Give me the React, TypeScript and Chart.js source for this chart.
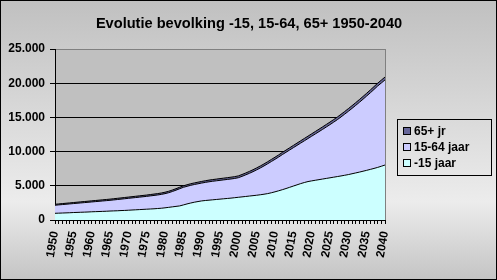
import React, { useEffect, useRef } from "react";
import { Chart, registerables } from "chart.js";

Chart.register(...registerables);

const years = [
  "1950","1951","1952","1953","1954","1955","1956","1957","1958","1959",
  "1960","1961","1962","1963","1964","1965","1966","1967","1968","1969",
  "1970","1971","1972","1973","1974","1975","1976","1977","1978","1979",
  "1980","1981","1982","1983","1984","1985","1986","1987","1988","1989",
  "1990","1991","1992","1993","1994","1995","1996","1997","1998","1999",
  "2000","2001","2002","2003","2004","2005","2006","2007","2008","2009",
  "2010","2011","2012","2013","2014","2015","2016","2017","2018","2019",
  "2020","2021","2022","2023","2024","2025","2026","2027","2028","2029",
  "2030","2031","2032","2033","2034","2035","2036","2037","2038","2039",
  "2040",
];

const under15 = [
  980, 1000, 1020, 1040, 1060, 1090, 1110, 1130, 1150, 1170,
  1200, 1220, 1240, 1260, 1280, 1310, 1330, 1350, 1380, 1400,
  1430, 1460, 1490, 1520, 1550, 1580, 1610, 1640, 1680, 1720,
  1780, 1850, 1920, 1990, 2060, 2200, 2350, 2480, 2600, 2700,
  2790, 2850, 2900, 2950, 3000, 3050, 3100, 3150, 3200, 3260,
  3320, 3380, 3440, 3500, 3560, 3620, 3690, 3770, 3860, 3980,
  4120, 4270, 4430, 4600, 4780, 4960, 5140, 5320, 5480, 5620,
  5720, 5810, 5900, 5990, 6080, 6170, 6260, 6350, 6440, 6540,
  6640, 6760, 6880, 7000, 7130, 7260, 7400, 7540, 7690, 7860,
  8040,
];

const age15to64 = [
  1180, 1208, 1235, 1263, 1291, 1309, 1337, 1364, 1392, 1420,
  1438, 1466, 1494, 1521, 1549, 1567, 1605, 1642, 1670, 1708,
  1736, 1764, 1792, 1819, 1847, 1875, 1913, 1950, 1978, 2025,
  2072, 2139, 2246, 2373, 2510, 2577, 2574, 2591, 2588, 2595,
  2612, 2649, 2686, 2713, 2730, 2747, 2764, 2781, 2798, 2815,
  2862, 2998, 3154, 3320, 3506, 3712, 3918, 4134, 4360, 4566,
  4752, 4938, 5134, 5300, 5456, 5612, 5767, 5922, 6097, 6292,
  6527, 6773, 7019, 7265, 7521, 7777, 8043, 8319, 8625, 8931,
  9247, 9554, 9871, 10198, 10525, 10862, 11199, 11546, 11894, 12172,
  12440,
];

const over65 = [
  140, 142, 145, 147, 149, 151, 153, 156, 158, 160,
  162, 164, 166, 169, 171, 173, 175, 178, 180, 182,
  184, 186, 188, 191, 193, 195, 197, 200, 202, 205,
  208, 211, 214, 217, 220, 223, 226, 229, 232, 235,
  238, 241, 244, 247, 250, 253, 256, 259, 262, 265,
  268, 272, 276, 280, 284, 288, 292, 296, 300, 304,
  308, 312, 316, 320, 324, 328, 333, 338, 343, 348,
  353, 357, 361, 365, 369, 373, 377, 381, 385, 389,
  393, 396, 399, 402, 405, 408, 411, 414, 416, 418,
  420,
];

const yTickValues = [0, 5000, 10000, 15000, 20000, 25000];
const yTickLabels = ["0", "5.000", "10.000", "15.000", "20.000", "25.000"];

const seriesNames = ["-15 jaar", "15-64 jaar", "65+ jr"];
const seriesColors = ["#ccffff", "#ccccff", "#666699"];
const titleText = "Evolutie bevolking -15, 15-64, 65+ 1950-2040";

const FONT = "'Liberation Sans', Arial, sans-serif";

const decorPlugin = {
  id: "decor",
  beforeDraw(chart: any) {
    const { ctx, width, height, chartArea } = chart;
    ctx.save();
    const g = ctx.createLinearGradient(0, 0, 0, height);
    g.addColorStop(0, "#c0c0c0");
    g.addColorStop(0.72, "#ececec");
    g.addColorStop(1, "#c4c4c4");
    ctx.fillStyle = g;
    ctx.fillRect(0, 0, width, height);
    ctx.fillStyle = "#c0c0c0";
    ctx.fillRect(chartArea.left, chartArea.top, chartArea.right - chartArea.left, chartArea.bottom - chartArea.top);
    ctx.restore();
  },
  afterDraw(chart: any) {
    const { ctx, width, height, chartArea } = chart;
    ctx.save();
    // plot right border
    ctx.strokeStyle = "#808080";
    ctx.lineWidth = 1;
    ctx.beginPath();
    ctx.moveTo(Math.round(chartArea.right) + 0.5, chartArea.top);
    ctx.lineTo(Math.round(chartArea.right) + 0.5, chartArea.bottom);
    ctx.stroke();

    // title
    ctx.fillStyle = "#000";
    ctx.font = `bold 14.6px ${FONT}`;
    ctx.textAlign = "center";
    ctx.textBaseline = "middle";
    ctx.fillText(titleText, 249, 24);

    // legend
    const lx = 397, ly = 119, lw = 94, lh = 56;
    ctx.strokeStyle = "#000";
    ctx.strokeRect(lx + 0.5, ly + 0.5, lw, lh);
    ctx.font = `bold 12px ${FONT}`;
    ctx.textAlign = "left";
    const order = [2, 1, 0];
    order.forEach((di, i) => {
      const cy = ly + 12 + i * 16;
      ctx.fillStyle = seriesColors[di];
      ctx.fillRect(403, cy - 3, 7, 7);
      ctx.strokeStyle = "#000";
      ctx.strokeRect(403.5, cy - 3.5, 7, 7);
      ctx.fillStyle = "#000";
      ctx.fillText(chart.data.datasets[di].label, 414, cy + 0.5);
    });

    // outer border
    ctx.strokeStyle = "#000";
    ctx.strokeRect(0.5, 0.5, width - 1, height - 1);
    ctx.restore();
  },
};

export default function App() {
  const ref = useRef<HTMLCanvasElement>(null);
  useEffect(() => {
    document.body.style.margin = "0";
    const canvas = ref.current!;
    const datasetsData = [under15, age15to64, over65];
    const chart = new Chart(canvas, {
      type: "line",
      data: {
        labels: years,
        datasets: datasetsData.map((d, i) => ({
          label: seriesNames[i],
          data: d,
          backgroundColor: seriesColors[i],
          borderColor: "#000",
          borderWidth: 1,
          pointRadius: 0,
          tension: 0,
          fill: i === 0 ? "origin" : "-1",
        })),
      },
      options: {
        responsive: false,
        animation: false,
        devicePixelRatio: 1,
        layout: { padding: { top: 49, left: 0, right: 112, bottom: 0 } },
        plugins: {
          legend: { display: false },
          title: { display: false },
          tooltip: { enabled: false },
        },
        scales: {
          x: {
            offset: false,
            afterFit: (s: any) => { s.height = 60; },
            grid: {
              display: true,
              drawOnChartArea: false,
              drawTicks: true,
              tickLength: 4,
              color: "#000",
              tickColor: "#000",
            },
            border: { display: true, color: "#000" },
            ticks: {
              autoSkip: false,
              minRotation: 80,
              maxRotation: 80,
              padding: 6,
              color: "#000",
              font: { family: FONT, size: 12, weight: "bold" },
              callback: (_v: any, idx: number) => (idx % 5 === 0 ? years[idx] : ""),
            },
          },
          y: {
            stacked: true,
            min: 0,
            max: 25000,
            afterFit: (s: any) => { s.width = 55; },
            afterBuildTicks: (s: any) => { s.ticks = yTickValues.map((v) => ({ value: v })); },
            grid: {
              color: (c: any) => (c.tick && c.tick.value === 25000 ? "#808080" : "#000"),
              tickColor: "#000",
              tickLength: 5,
              drawTicks: true,
            },
            border: { display: true, color: "#000" },
            ticks: {
              padding: 5,
              color: "#000",
              font: { family: FONT, size: 12, weight: "bold" },
              callback: (v: any) => yTickLabels[yTickValues.indexOf(Number(v))] ?? "",
            },
          },
        },
      },
      plugins: [decorPlugin],
    });
    return () => chart.destroy();
  }, []);
  return (
    <div style={{ position: "absolute", left: 0, top: 0, width: 497, height: 280 }}>
      <canvas ref={ref} width={497} height={280} style={{ display: "block" }} />
    </div>
  );
}
